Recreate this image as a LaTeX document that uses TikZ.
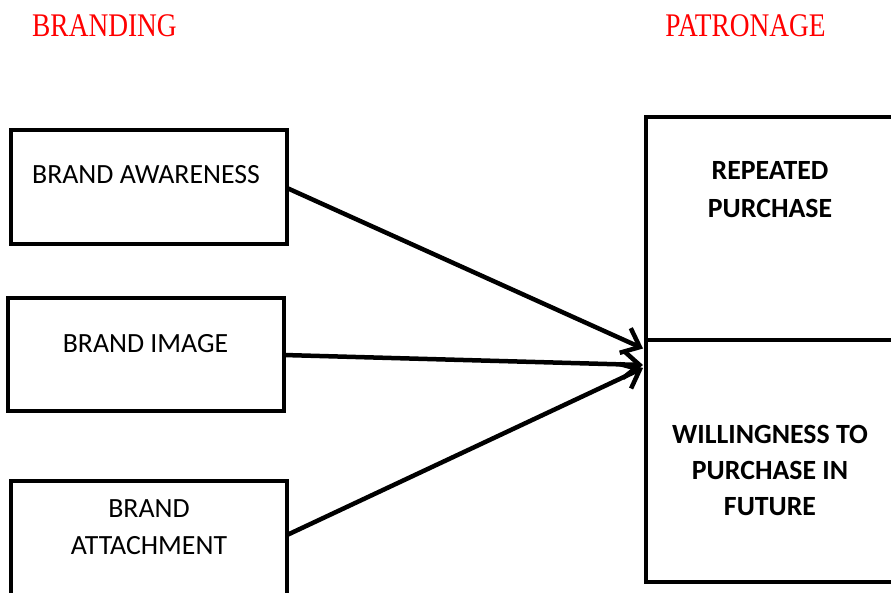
\documentclass[tikz,border=0pt]{standalone}
\usepackage{fontspec}
\setmainfont{Carlito}
\newfontfamily\headfont{Liberation Serif}
\usetikzlibrary{arrows.meta}
\begin{document}
\begin{tikzpicture}[x=1pt,y=-1pt,
  box/.style={draw=black,line width=4.5pt,rectangle,inner sep=0pt},
  lbl/.style={font=\fontsize{27.8}{37}\selectfont,align=center,anchor=base,inner sep=0pt},
  blbl/.style={font=\fontsize{27.8}{36}\selectfont\bfseries,align=center,anchor=base,inner sep=0pt},
  head/.style={font=\fontsize{33}{38}\selectfont\headfont,text=red,anchor=base,inner sep=0pt},
  arr/.style={line width=4.5pt,-{Straight Barb[length=16pt,width=27pt,line width=4.5pt]}}]
\useasboundingbox (0,0) rectangle (891,592);
\clip (0,0) rectangle (891,592);
\fill[white] (0,0) rectangle (891,592);
% headings
\node[head] (hbrand) at (104.5,36) {\scalebox{0.83}[1]{BRANDING}};
\node[head] (hpatron) at (745.5,36) {\scalebox{0.83}[1]{PATRONAGE}};
% left boxes
\node[box,minimum width=276pt,minimum height=114pt] (b1) at (149,187) {};
\node[box,minimum width=276pt,minimum height=113pt] (b2) at (146,354.5) {};
\node[box,minimum width=276pt,minimum height=139pt] (b3) at (149,550.5) {};
\node[lbl] (t1) at (146,183) {BRAND AWARENESS};
\node[lbl] (t2) at (145.5,352) {BRAND IMAGE};
\node[lbl] (t3a) at (149,517) {BRAND};
\node[lbl] (t3b) at (149,554) {ATTACHMENT};
% right box
\node[box,minimum width=274pt,minimum height=465pt] (pb) at (783,349.5) {};
\coordinate (dl) at (646,340);
\coordinate (dr) at (920,340);
\draw[line width=4.5pt] (dl) -- (dr);
\node[blbl] (r1a) at (770,179) {REPEATED};
\node[blbl] (r1b) at (770,217) {PURCHASE};
\node[blbl] (r2a) at (770,443) {WILLINGNESS TO};
\node[blbl] (r2b) at (770,479) {PURCHASE IN};
\node[blbl] (r2c) at (770,515) {FUTURE};
% arrows
\coordinate (e1) at (643,348.5);
\coordinate (e2) at (643,365);
\coordinate (e3) at (643,368);
\coordinate (s1) at (287,188);
\coordinate (s2) at (284,355);
\coordinate (s3) at (287,535);
\draw[arr] (s1) -- (e1);
\draw[arr] (s2) -- (e2);
\draw[arr] (s3) -- (e3);
\end{tikzpicture}
\end{document}
